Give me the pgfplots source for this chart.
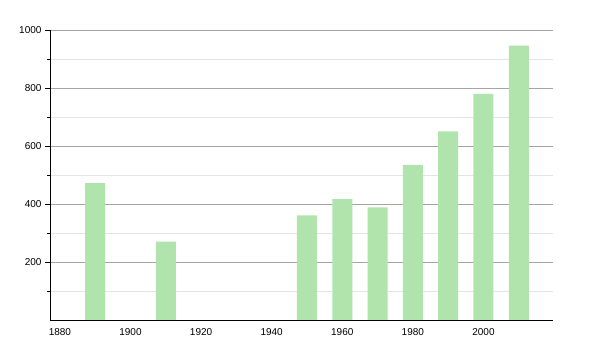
\documentclass[border=0pt]{standalone}
\usepackage{pgfplots}
\pgfplotsset{compat=1.18}
\usepackage{fontspec}
\setmainfont{Liberation Sans}
\definecolor{barg}{RGB}{176,228,172}
\definecolor{majg}{RGB}{165,165,165}
\definecolor{ming}{RGB}{228,228,228}
\begin{document}
\begin{tikzpicture}[x=1pt,y=1pt]
\path[use as bounding box] (-50,-30) rectangle (550,320);
\begin{axis}[
  at={(0,0)}, anchor=south west,
  scale only axis, width=503pt, height=290pt,
  xmin=1877.2, xmax=2019.7, ymin=0, ymax=1000,
  axis lines*=left,
  axis line style={black, line width=0.9pt},
  ybar, bar width=20pt,
  xtick={1880,1900,...,2000},
  ytick={200,400,...,1000},
  minor ytick={100,300,...,900},
  ymajorgrids, yminorgrids,
  major grid style={majg, line width=0.7pt},
  minor grid style={ming, line width=0.7pt},
  tick align=outside,
  x tick style={draw=none},
  y tick style={black, line width=0.7pt},
  major tick length=5pt, minor tick length=3pt,
  xticklabel style={/pgf/number format/1000 sep={}},
  yticklabel style={/pgf/number format/1000 sep={}},
  /pgf/number format/assume math mode=true,
  tick label style={font=\fontsize{10}{11}\selectfont},
]
\addplot[fill=barg, draw=none] coordinates {
(1890,472) (1910,270) (1950,361) (1960,417) (1970,388) (1980,535) (1990,650) (2000,780) (2010,946)
};
\end{axis}
\end{tikzpicture}
\end{document}
